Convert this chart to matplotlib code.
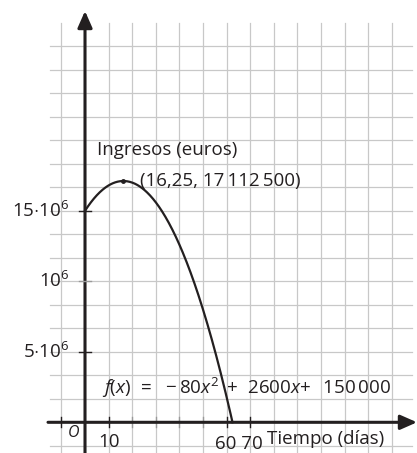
import numpy as np
import matplotlib
matplotlib.use("Agg")
import matplotlib.pyplot as plt

# ---- data ----
coef_a, coef_b, coef_c = -80, 2600, 150000   # f(x) = a x^2 + b x + c
scale_factor = 100                            # values plotted as f(x)*100
vertex_x = 16.25
vertex_label = "(16,25, 17\u2009112\u2009500)"
x_root = 62.5
xtick_vals = [10, 60, 70]
xtick_labels = ["10", "60 70"]
ytick_vals = [15, 10, 5]                      # millions
ytick_labels = [r"$15{\cdot}10^6$", r"$10^6$", r"$5{\cdot}10^6$"]
ylabel_text = "Ingresos (euros)"
xlabel_text = "Tiempo (días)"
eq_text = r"$f(x)\;\,=\;\,-80x^2\;+\;\,2600x\!+\;\;150\,000$"

plt.rcParams['font.family'] = ['Open Sans', 'DejaVu Sans']
plt.rcParams['mathtext.fontset'] = 'custom'
plt.rcParams['mathtext.rm'] = 'Open Sans'
plt.rcParams['mathtext.it'] = 'Open Sans:italic'
plt.rcParams['mathtext.bf'] = 'Open Sans:bold'

INK = '#231f20'
GRID = '#c8c8c8'

fig = plt.figure(figsize=(4.17, 4.53), dpi=100)
ax = fig.add_axes([0, 0, 1, 1])
px_x = 2.36   # px per day
px_y = 14.1   # px per million
x0_px, y0_px = 85, 422.3
ax.set_xlim(-x0_px / px_x, (417 - x0_px) / px_x)
ax.set_ylim(-(453 - y0_px) / px_y, y0_px / px_y)
ax.axis('off')

# grid
cell_y = 5 / 3
gy_top = (y0_px - 23) / px_y
for gx in np.arange(-10, 131, 10):
    ax.plot([gx, gx], [-3, gy_top], color=GRID, lw=0.9, zorder=1)
for k in range(-1, 17):
    ax.plot([(50 - x0_px) / px_x, (412 - x0_px) / px_x], [k * cell_y] * 2,
            color=GRID, lw=0.9, zorder=1)

# axes with arrows
ax.annotate('', xy=((417 - x0_px) / px_x, 0), xytext=((48 - x0_px) / px_x, 0),
            arrowprops=dict(arrowstyle='-|>,head_length=0.5,head_width=0.22',
                            lw=2.2, color=INK, mutation_scale=20, shrinkA=0, shrinkB=0),
            zorder=3)
ax.annotate('', xy=(0, (y0_px - 11) / px_y), xytext=(0, -3),
            arrowprops=dict(arrowstyle='-|>,head_length=0.5,head_width=0.22',
                            lw=2.2, color=INK, mutation_scale=20, shrinkA=0, shrinkB=0),
            zorder=3)

# x ticks
dtx = 5 / px_y
for t in [-10, 10, 60, 70]:
    ax.plot([t, t], [-dtx, dtx], color=INK, lw=1.0, zorder=3)
for t in [20, 30, 40, 50]:
    ax.plot([t, t], [-dtx, dtx], color='#9a9a9a', lw=1.0, zorder=2)
# y ticks
dty = 6 / px_x
for t, c in zip(ytick_vals, [INK, '#9a9a9a', INK]):
    ax.plot([-dty, dty], [t, t], color=c, lw=1.0, zorder=3)

# curve
xs = np.linspace(0, x_root, 300)
ys = (coef_a * xs**2 + coef_b * xs + coef_c) * scale_factor / 1e6
ax.plot(xs, ys, color=INK, lw=1.6, zorder=4)
vy = (coef_a * vertex_x**2 + coef_b * vertex_x + coef_c) * scale_factor / 1e6
ax.plot([vertex_x], [vy], 'o', color=INK, ms=2.5, zorder=5)

fs = 13.5
# y tick labels
for t, lab in zip(ytick_vals, ytick_labels):
    ax.text((69 - x0_px) / px_x, t, lab, ha='right', va='center', fontsize=fs,
            color=INK, zorder=6)
# x tick labels
ax.text(10, (y0_px - 442) / px_y, xtick_labels[0], ha='center', va='center',
        fontsize=fs, color=INK, zorder=6)
ax.text((239 - x0_px) / px_x, (y0_px - 444) / px_y, xtick_labels[1], ha='center',
        va='center', fontsize=fs, color=INK, zorder=6)
ax.text((74 - x0_px) / px_x, (y0_px - 433) / px_y, 'O', ha='center', va='center',
        fontsize=fs - 2, style='italic', color=INK, zorder=6)

ax.text((267 - x0_px) / px_x, (y0_px - 439) / px_y, xlabel_text, ha='left',
        va='center', fontsize=fs, color=INK, zorder=6)
ax.text((97 - x0_px) / px_x, (y0_px - 150) / px_y, ylabel_text, ha='left',
        va='center', fontsize=fs, color=INK, zorder=6)
ax.text((140 - x0_px) / px_x, (y0_px - 181) / px_y, vertex_label, ha='left',
        va='center', fontsize=fs, color=INK, zorder=6)
ax.text((102 - x0_px) / px_x, (y0_px - 388) / px_y, eq_text, ha='left',
        va='center', fontsize=fs, color=INK, zorder=6)

fig.savefig('out.png', dpi=100)
